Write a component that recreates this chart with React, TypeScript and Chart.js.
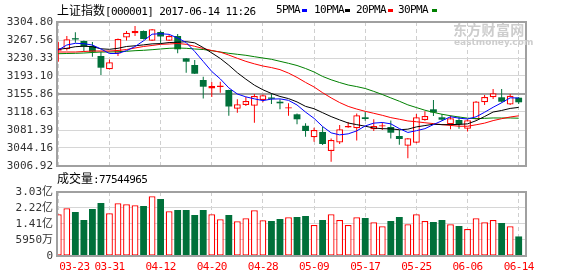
import React, { useEffect, useRef } from 'react';
import { Chart, registerables } from 'chart.js';

Chart.register(...registerables);

// ---------- data ----------
const dates = ['03-23','03-24','03-27','03-28','03-29','03-30','03-31','04-05','04-06','04-07','04-10','04-11','04-12','04-13','04-14','04-17','04-18','04-19','04-20','04-21','04-24','04-25','04-26','04-27','04-28','05-02','05-03','05-04','05-05','05-08','05-09','05-10','05-11','05-12','05-15','05-16','05-17','05-18','05-19','05-22','05-23','05-24','05-25','05-26','05-31','06-01','06-02','06-05','06-06','06-07','06-08','06-09','06-12','06-13','06-14'];

const opens = [3245.43, 3248.33, 3269.22, 3265.50, 3255.15, 3234.47, 3206.96, 3239.64, 3272.74, 3281.43, 3286.18, 3266.12, 3284.11, 3266.12, 3275.84, 3229.71, 3215.85, 3184.82, 3167.24, 3170.55, 3164.14, 3125.45, 3133.11, 3131.66, 3143.45, 3146.97, 3139.93, 3125.87, 3113.87, 3090.08, 3066.29, 3077.25, 3037.95, 3055.53, 3086.56, 3084.91, 3107.66, 3082.84, 3088.64, 3087.60, 3068.98, 3048.91, 3055.12, 3102.08, 3124.21, 3107.66, 3093.18, 3102.08, 3084.08, 3103.53, 3138.69, 3149.03, 3149.03, 3134.14, 3148.21];
const highs = [3264.05, 3275.84, 3283.49, 3266.53, 3263.43, 3242.74, 3227.23, 3270.67, 3286.18, 3296.53, 3287.22, 3290.32, 3286.80, 3277.91, 3280.02, 3230.50, 3226.19, 3191.65, 3180.68, 3181.30, 3164.60, 3144.90, 3149.66, 3155.86, 3154.83, 3156.90, 3144.90, 3136.62, 3115.52, 3095.25, 3086.15, 3088.22, 3063.81, 3091.73, 3097.94, 3115.52, 3119.25, 3103.53, 3097.32, 3101.04, 3081.39, 3064.60, 3114.49, 3120.07, 3143.45, 3114.49, 3111.39, 3108.90, 3103.53, 3141.38, 3153.79, 3166.20, 3166.20, 3155.86, 3149.66];
const lows = [3222.68, 3245.85, 3261.98, 3244.81, 3233.02, 3195.16, 3206.54, 3234.47, 3266.53, 3275.84, 3268.60, 3265.50, 3261.36, 3265.50, 3240.05, 3199.92, 3197.23, 3146.55, 3149.66, 3158.55, 3110.97, 3117.18, 3131.04, 3096.49, 3138.69, 3135.18, 3124.21, 3110.97, 3093.18, 3067.53, 3057.19, 3050.36, 3015.82, 3052.43, 3086.15, 3059.67, 3100.63, 3079.32, 3081.39, 3063.81, 3050.98, 3022.85, 3053.88, 3100.63, 3110.35, 3101.04, 3082.84, 3084.08, 3078.29, 3103.11, 3133.11, 3145.52, 3138.28, 3133.11, 3135.18];
const closes = [3250.40, 3269.01, 3268.60, 3254.12, 3243.36, 3210.27, 3221.44, 3269.63, 3282.67, 3286.18, 3269.63, 3289.70, 3274.81, 3275.84, 3248.33, 3222.68, 3197.85, 3170.96, 3172.41, 3171.38, 3130.00, 3134.56, 3141.38, 3151.72, 3153.17, 3145.93, 3136.62, 3126.49, 3103.53, 3079.32, 3081.39, 3052.43, 3060.71, 3082.84, 3089.67, 3111.80, 3104.15, 3089.67, 3089.25, 3075.80, 3062.77, 3064.22, 3107.66, 3110.35, 3117.59, 3102.70, 3105.59, 3093.18, 3101.46, 3140.35, 3149.66, 3157.31, 3139.93, 3152.34, 3138.69];

const ma5 = [3246.88, 3257.22, 3260.74, 3259.91, 3257.10, 3249.07, 3239.56, 3239.76, 3245.47, 3254.04, 3265.91, 3279.56, 3280.60, 3279.23, 3271.66, 3262.27, 3243.90, 3223.13, 3202.45, 3187.06, 3168.52, 3155.86, 3149.95, 3145.81, 3142.17, 3145.35, 3145.77, 3142.79, 3133.15, 3118.38, 3105.47, 3088.63, 3075.48, 3071.34, 3073.41, 3079.49, 3089.83, 3095.62, 3096.91, 3094.13, 3084.33, 3076.34, 3079.94, 3084.16, 3092.52, 3100.51, 3108.78, 3105.88, 3104.11, 3108.66, 3118.05, 3128.39, 3137.74, 3147.92, 3147.59];
const ma10 = [3248.33, 3250.40, 3253.71, 3254.74, 3253.71, 3249.36, 3248.33, 3250.40, 3254.12, 3255.57, 3257.49, 3259.56, 3260.18, 3262.35, 3262.85, 3264.09, 3261.73, 3251.87, 3240.84, 3229.36, 3215.40, 3199.88, 3186.54, 3174.13, 3164.61, 3156.94, 3150.81, 3146.37, 3139.48, 3130.27, 3125.41, 3117.20, 3109.13, 3102.24, 3095.89, 3092.48, 3089.23, 3085.55, 3084.12, 3083.77, 3081.91, 3083.09, 3087.78, 3090.54, 3093.33, 3092.42, 3092.56, 3092.91, 3094.13, 3100.59, 3109.28, 3118.59, 3121.81, 3126.01, 3128.12];
const ma20 = [3242.74, 3242.74, 3242.74, 3243.78, 3244.81, 3244.81, 3244.81, 3245.85, 3247.91, 3251.02, 3254.12, 3256.19, 3258.67, 3259.29, 3260.33, 3258.67, 3254.53, 3249.98, 3245.85, 3242.45, 3236.43, 3229.71, 3223.36, 3218.23, 3213.72, 3210.51, 3206.27, 3199.12, 3190.16, 3179.82, 3170.40, 3158.53, 3147.84, 3138.17, 3130.25, 3124.71, 3120.01, 3115.96, 3111.80, 3107.02, 3103.65, 3100.13, 3098.46, 3096.39, 3094.61, 3092.44, 3090.89, 3089.23, 3089.13, 3092.17, 3095.58, 3100.84, 3104.79, 3108.28, 3110.72];
const ma30 = [3239.23, 3239.64, 3240.05, 3240.67, 3241.71, 3242.74, 3242.74, 3243.36, 3244.19, 3245.43, 3246.26, 3247.50, 3248.95, 3250.40, 3251.02, 3250.40, 3248.95, 3247.91, 3245.43, 3242.74, 3240.05, 3237.98, 3235.92, 3233.02, 3230.33, 3227.64, 3223.50, 3219.37, 3214.82, 3208.61, 3201.37, 3192.21, 3185.28, 3179.57, 3174.46, 3171.17, 3167.26, 3161.26, 3154.81, 3147.79, 3140.91, 3133.40, 3127.81, 3122.31, 3117.94, 3113.95, 3110.87, 3108.28, 3105.90, 3104.87, 3105.53, 3106.30, 3106.24, 3106.26, 3105.78];

// volume in 亿 (1e8 shares)
const volumes = [1.899, 2.203, 2.015, 1.610, 2.168, 2.472, 1.949, 2.457, 2.411, 2.360, 2.320, 2.817, 2.675, 2.051, 2.117, 2.117, 1.863, 2.117, 1.904, 1.650, 1.863, 1.549, 1.696, 2.107, 1.599, 1.559, 1.660, 1.747, 1.762, 1.812, 1.356, 1.610, 1.899, 1.610, 1.356, 1.747, 1.711, 1.493, 1.290, 1.559, 1.762, 1.391, 1.899, 1.559, 1.508, 1.610, 1.391, 1.305, 1.153, 1.696, 1.493, 1.610, 1.457, 1.290, 0.775];

const priceTicks = [3006.92, 3044.16, 3081.39, 3118.63, 3155.86, 3193.10, 3230.33, 3267.56, 3304.80];
const volTicks = [-0.217, 0.595, 1.41, 2.22, 3.03];
const volTickLabels = ['0', '5950万', '1.41亿', '2.22亿', '3.03亿'];
const xTickIndex = [0, 6, 12, 18, 24, 30, 36, 42, 48, 54];

const titleName = '上证指数';
const titleInfo = '[000001] 2017-06-14 11:26';
const maLegend = ['5PMA', '10PMA', '20PMA', '30PMA'];
const currentVolume = '77544965';

// ---------- styles ----------
const RED = '#ff0000';
const GREEN = '#00703a';
const MA_COLORS = ['#0000ff', '#000000', '#ff0000', '#008000'];
const MONO = "'DejaVu Sans Mono', 'Noto Sans CJK SC', monospace";
const CJK = "'Noto Sans CJK SC', sans-serif";
const X_MIN = -0.153;
const X_MAX = 54.857;

const framePlugin = {
  id: 'frame',
  afterDatasetsDraw(chart: any) {
    const { ctx, chartArea: a } = chart;
    ctx.save();
    ctx.strokeStyle = '#a0a0a0';
    ctx.lineWidth = 2;
    ctx.strokeRect(a.left, a.top, a.right - a.left, a.bottom - a.top);
    ctx.restore();
  },
};

const xLabelPlugin = {
  id: 'xlabels',
  afterDraw(chart: any) {
    const { ctx, chartArea, scales } = chart;
    ctx.save();
    ctx.fillStyle = RED;
    ctx.font = `11px ${MONO}`;
    try {
      (ctx as any).letterSpacing = '-0.6px';
    } catch (e) {
      /* ignore */
    }
    ctx.textBaseline = 'middle';
    xTickIndex.forEach((v, k) => {
      const x = scales.x.getPixelForValue(v);
      ctx.textAlign = k === 0 ? 'left' : 'center';
      ctx.fillText(dates[v], k === 0 ? x + 1 : x, chartArea.bottom + 11);
    });
    ctx.restore();
  },
};

function makeX() {
  return {
    type: 'linear',
    offset: false,
    min: X_MIN,
    max: X_MAX,
    afterBuildTicks: (s: any) => {
      s.ticks = xTickIndex.map((v) => ({ value: v }));
    },
    afterFit: (s: any) => {
      s.height = 0;
      s.paddingLeft = 0;
      s.paddingRight = 0;
    },
    ticks: { display: false },
    grid: { color: '#cfcfcf', drawTicks: false, lineWidth: 1, offset: false },
    border: { display: false, dash: [4, 3] },
  };
}

export default function App() {
  const priceRef = useRef<HTMLCanvasElement>(null);
  const volRef = useRef<HTMLCanvasElement>(null);

  useEffect(() => {
    const up = closes.map((c, i) => c >= opens[i]);
    const idx = dates.map((_, i) => i);

    const lineDs = [ma5, ma10, ma20, ma30].map((arr, k) => ({
      type: 'line',
      data: arr.map((v, i) => ({ x: i, y: v })),
      borderColor: MA_COLORS[k],
      borderWidth: 1,
      pointRadius: 0,
      fill: false,
      tension: 0,
    }));

    const priceChart = new Chart(priceRef.current as HTMLCanvasElement, {
      type: 'bar',
      data: {
        datasets: [
          ...lineDs,
          {
            type: 'bar',
            data: idx.map((i) => ({ x: i, y: [opens[i], closes[i]] })),
            backgroundColor: up.map((u) => (u ? '#ffffff' : GREEN)),
            borderColor: up.map((u) => (u ? RED : GREEN)),
            borderWidth: up.map((u) => (u ? 1.3 : 0)),
            borderSkipped: false,
            grouped: false,
            barPercentage: 0.8,
            categoryPercentage: 1,
            minBarLength: 1.3,
          },
          {
            type: 'bar',
            data: idx.map((i) => ({ x: i, y: [lows[i], highs[i]] })),
            backgroundColor: up.map((u) => (u ? RED : GREEN)),
            borderWidth: 0,
            grouped: false,
            maxBarThickness: 1,
          },
        ] as any,
      },
      options: {
        responsive: false,
        animation: false,
        devicePixelRatio: 1,
        events: [],
        layout: { padding: { top: 22, right: 52, bottom: 8, left: 0 } },
        plugins: { legend: { display: false }, tooltip: { enabled: false } },
        scales: {
          x: makeX() as any,
          y: {
            type: 'linear',
            position: 'left',
            min: priceTicks[0],
            max: priceTicks[priceTicks.length - 1],
            afterBuildTicks: (s: any) => {
              s.ticks = priceTicks.map((v) => ({ value: v }));
            },
            afterFit: (s: any) => {
              s.width = 57;
              s.paddingTop = 0;
              s.paddingBottom = 0;
            },
            ticks: {
              autoSkip: false,
              padding: 4,
              color: '#333',
              font: { family: MONO, size: 11 },
              callback: (v: any) => Number(v).toFixed(2),
            },
            grid: {
              drawTicks: false,
              color: (c: any) => (c.index === 4 ? '#a0a0a0' : '#d6d6d6'),
              lineWidth: (c: any) => (c.index === 4 ? 2 : 1),
            },
            border: { display: false },
          } as any,
        },
      },
      plugins: [framePlugin],
    });

    const volChart = new Chart(volRef.current as HTMLCanvasElement, {
      type: 'bar',
      data: {
        datasets: [
          {
            data: idx.map((i) => ({ x: i, y: volumes[i] })),
            base: volTicks[0],
            backgroundColor: up.map((u) => (u ? '#ffffff' : GREEN)),
            borderColor: up.map((u) => (u ? RED : GREEN)),
            borderWidth: up.map((u) => (u ? 1.3 : 0)),
            borderSkipped: false,
            grouped: false,
            barPercentage: 0.8,
            categoryPercentage: 1,
          } as any,
        ],
      },
      options: {
        responsive: false,
        animation: false,
        devicePixelRatio: 1,
        events: [],
        layout: { padding: { top: 8, right: 52, bottom: 20, left: 0 } },
        plugins: { legend: { display: false }, tooltip: { enabled: false } },
        scales: {
          x: makeX() as any,
          y: {
            type: 'linear',
            position: 'left',
            min: volTicks[0],
            max: volTicks[volTicks.length - 1],
            afterBuildTicks: (s: any) => {
              s.ticks = volTicks.map((v) => ({ value: v }));
            },
            afterFit: (s: any) => {
              s.width = 57;
              s.paddingTop = 0;
              s.paddingBottom = 0;
            },
            ticks: {
              autoSkip: false,
              padding: 4,
              color: '#333',
              font: { family: MONO, size: 11 },
              callback: (_v: any, i: number) => volTickLabels[i],
            },
            grid: { drawTicks: false, color: '#d6d6d6', lineWidth: 1 },
            border: { display: false },
          } as any,
        },
      },
      plugins: [framePlugin, xLabelPlugin],
    });

    return () => {
      priceChart.destroy();
      volChart.destroy();
    };
  }, []);

  const legendX = [276, 314, 356, 398];
  const squareX = [302, 345, 388, 432];

  return (
    <div style={{ position: 'absolute', left: 0, top: 0, width: 578, height: 276, background: '#fff', overflow: 'hidden' }}>
      <canvas ref={priceRef} width={578} height={174} style={{ position: 'absolute', left: 0, top: 0 }} />
      <canvas ref={volRef} width={578} height={92} style={{ position: 'absolute', left: 0, top: 184 }} />

      {/* watermark */}
      <div style={{ position: 'absolute', left: 453, top: 21, fontFamily: CJK, fontWeight: 700, fontSize: 14, lineHeight: '16px', color: '#cdcdcd', letterSpacing: 0.3 }}>东方财富网</div>
      <div style={{ position: 'absolute', left: 454, top: 37, fontFamily: "'DejaVu Sans', sans-serif", fontWeight: 700, fontSize: 9, lineHeight: '10px', color: '#cdcdcd' }}>eastmoney.com</div>

      {/* title */}
      <div style={{ position: 'absolute', left: 57, top: 2, whiteSpace: 'pre', lineHeight: '16px', color: '#000' }}>
        <span style={{ fontFamily: CJK, fontSize: 12 }}>{titleName}</span>
        <span style={{ fontFamily: MONO, fontSize: 11, letterSpacing: -0.6 }}>{titleInfo}</span>
      </div>
      {maLegend.map((t, k) => (
        <React.Fragment key={t}>
          <div style={{ position: 'absolute', left: legendX[k], top: 2, lineHeight: '16px', fontFamily: MONO, fontSize: 11, letterSpacing: -0.6, color: '#000', whiteSpace: 'pre' }}>{t}</div>
          <div style={{ position: 'absolute', left: squareX[k], top: 9, width: 5, height: 3, background: MA_COLORS[k] }} />
        </React.Fragment>
      ))}

      {/* volume caption */}
      <div style={{ position: 'absolute', left: 57, top: 170, whiteSpace: 'pre', lineHeight: '16px', color: '#000' }}>
        <span style={{ fontFamily: CJK, fontSize: 12 }}>成交量</span>
        <span style={{ fontFamily: MONO, fontSize: 11, letterSpacing: -0.6 }}>{':' + currentVolume}</span>
      </div>
    </div>
  );
}
